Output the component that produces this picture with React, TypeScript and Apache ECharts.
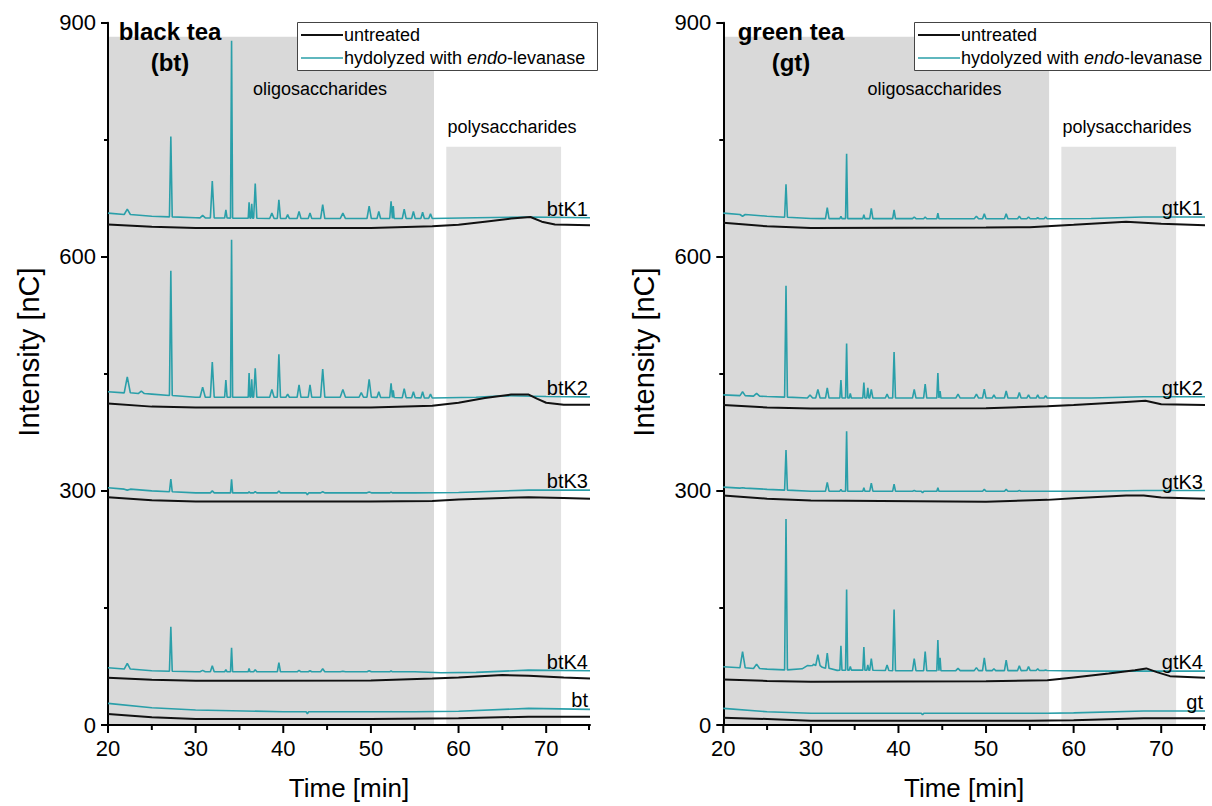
import React, { useEffect, useRef } from "react";
import * as echarts from "echarts";

const FONT = "'Liberation Sans', Arial, Helvetica, sans-serif";
const TEAL = "#2a9fa9";
const BLACK = "#111111";

const xMajorTicks = [20, 30, 40, 50, 60, 70];
const xMinorTicks = [25, 35, 45, 55, 65, 75];

// shaded regions [start, end, top]
const oligoRegion = [20, 57.2, 882];
const polyRegion = [58.6, 71.7, 741];

// ---------- black tea ----------
const btPeakTimes = [22.2, 23.8, 27.17, 30.8, 31.9, 33.45, 34.1, 36.1, 36.4, 36.8, 38.7, 39.5, 40.5, 41.8, 43.05, 44.5, 46.8, 48.9, 49.8, 50.9, 52.3, 52.55, 53.8, 54.85, 55.9, 56.8];
const btPeakWidths = [0.35, 0.35, 0.16, 0.3, 0.22, 0.14, 0.12, 0.1, 0.1, 0.18, 0.25, 0.18, 0.2, 0.22, 0.2, 0.24, 0.3, 0.25, 0.25, 0.2, 0.15, 0.1, 0.22, 0.2, 0.2, 0.2];

const btK1Tops = [661, null, 754, 653, 697, 660, 877, 670, 668, 694, 656, 673, 654, 658, 656, 667, 656, null, 665, 658, 671, 665, 661, 658, 657, 655];
const btK2Tops = [446, 428, 582, 433, 465, 442, 622, 451, 443, 457, 430, 475, 424, 436, 436, 456, 430, 426, 443, 427, 438, 429, 431, 427, 427, 424];
const btK3Tops = [301, null, 315, null, 300, null, 315, 299, null, 299, null, 300, null, null, null, 299, null, null, 298.5, null, 298.5, null, null, null, null, null];
const btK4Tops = [79, null, 126, 70, 76, 71, 99, 72.5, null, 71, null, 80, null, 70, 69.5, 72, 69, null, 69.5, null, 69.5, null, null, null, null, null];

const btK1Hyd = [[20, 656], [25, 652], [30, 650], [40, 649], [57, 649], [62, 650], [68, 651], [75, 650]];
const btK2Hyd = [[20, 427], [25, 424], [30, 420], [50, 420], [57, 419], [62, 420], [65, 422], [70, 421], [75, 420.5]];
const btK3Hyd = [[20, 304], [25, 300], [30, 297.5], [42.6, 297.5], [42.75, 295], [42.9, 297.5], [55, 297.5], [60, 298], [68, 301], [75, 301]];
const btK4Hyd = [[20, 73.4], [25, 69.5], [30, 68.2], [55, 68.2], [58, 67], [62, 67.5], [68, 70.3], [75, 69.5]];
const btHyd = [[20, 27.7], [25, 22.2], [30, 19.2], [40, 17], [42.6, 17], [42.75, 14.5], [42.9, 17], [55, 17], [60, 17.7], [68, 21.3], [75, 20]];

const btK1Unt = [[20, 641.5], [25, 638.5], [30, 637], [50, 637], [57, 639], [60, 641], [63, 645], [66, 649], [68.2, 651], [69.5, 645], [71, 641.5], [75, 640.5]];
const btK2Unt = [[20, 412], [25, 408], [30, 407], [50, 407], [57, 409], [60, 413], [63, 419], [66, 423.5], [68, 423.5], [69, 418], [70, 413], [72, 410.5], [75, 410.4]];
const btK3Unt = [[20, 292], [25, 288], [30, 286.4], [50, 286.4], [57, 287], [60, 289], [65, 291], [68, 292], [72, 291], [75, 290]];
const btK4Unt = [[20, 60.6], [25, 58], [30, 56.7], [50, 57], [57, 59.7], [60, 61], [65, 64], [68, 63], [72, 61], [75, 59.7]];
const btUnt = [[20, 14], [25, 10], [30, 7.7], [50, 7.7], [60, 8.5], [68, 10.7], [75, 10.7]];

const btNames = ["btK1", "btK2", "btK3", "btK4", "bt"];

// ---------- green tea ----------
const gtPeakTimes = [22.2, 23.8, 27.16, 29.9, 30.8, 31.87, 33.43, 34.08, 34.5, 36.05, 36.5, 36.9, 38.7, 39.5, 41.8, 43.05, 44.5, 44.75, 46.8, 48.9, 49.8, 50.9, 52.3, 53.8, 54.85, 55.9, 56.8];
const gtPeakWidths = [0.3, 0.35, 0.16, 0.3, 0.25, 0.2, 0.12, 0.12, 0.12, 0.12, 0.12, 0.18, 0.2, 0.16, 0.2, 0.18, 0.12, 0.1, 0.25, 0.25, 0.2, 0.2, 0.2, 0.2, 0.2, 0.18, 0.18];

const gtK1Tops = [652, null, 693, null, null, 663, 652, 732, null, 654, null, 662, null, 660, 651, 651, 656, null, null, 652, 655, null, 655, 652, 651, 650, 651];
const gtK2Tops = [427, 425, 563, 423, 430, 432, 442, 489, 425, 439, 432, 430, 424, 478, 430, 437, 451, 428, 424, 424, 430.5, 423, 428, 426, 423, 423, 422];
const gtK3Tops = [304, null, 352.5, null, null, 311, 302, 376.4, null, 304, null, 310, null, 308.6, 300.5, null, 304, null, null, null, 302, null, 302, 300.5, null, null, null];
const gtK4Tops = [94, 78, 264, 76, 90, 92, 101.5, 173.5, 75, 100, 77, 85, 77, 148, 85, 94, 109, 86, 72.5, 73.5, 86, 72, 83, 76, 75, 72, 70.5];

const gtK1Hyd = [[20, 656], [25, 652], [30, 649], [57, 648.7], [62, 649], [68, 651], [75, 651]];
const gtK2Hyd = [[20, 423], [25, 421], [30, 419], [57, 419], [62, 419], [68, 420.6], [75, 420.6]];
const gtK3Hyd = [[20, 304.8], [25, 302], [30, 299.6], [42.6, 299.6], [42.75, 297.5], [42.9, 299.6], [57, 299.6], [62, 299.6], [68, 300.5], [75, 300.5]];
const gtK4Hyd = [[20, 74.6], [25, 71.6], [27, 70.5], [29, 72], [30.3, 78], [31.3, 74], [33, 70], [35, 70.5], [40, 69.5], [57, 69.8], [62, 69], [75, 69]];
const gtHyd = [[20, 21.3], [25, 17], [30, 15], [42.6, 15], [42.75, 13], [42.9, 15], [57, 15], [60, 15.5], [68, 18], [75, 18]];

const gtK1Unt = [[20, 643.6], [25, 639], [30, 637], [50, 637.5], [55, 638], [60, 641], [66, 645], [70, 642.5], [75, 640.5]];
const gtK2Unt = [[20, 410], [25, 407], [30, 405.7], [50, 406], [57, 408.5], [60, 410], [66, 414], [68.2, 415.5], [70, 411], [75, 410]];
const gtK3Unt = [[20, 294], [25, 290], [30, 287.6], [50, 286], [57, 288.5], [60, 290.7], [66, 294], [68, 294], [70, 291.5], [75, 290]];
const gtK4Unt = [[20, 58.4], [25, 56.5], [30, 55.4], [50, 56], [57, 57.3], [60, 61], [64, 66], [67, 70.3], [68.3, 72.5], [69.5, 67.8], [71, 62.6], [75, 60.7]];
const gtUnt = [[20, 9.4], [25, 7.7], [30, 5.6], [55, 5.6], [60, 6], [68, 8.5], [75, 8.5]];

const gtNames = ["gtK1", "gtK2", "gtK3", "gtK4", "gt"];

function baseAt(base: number[][], t: number): number {
  for (let i = 0; i < base.length - 1; i++) {
    const [t0, v0] = base[i];
    const [t1, v1] = base[i + 1];
    if (t >= t0 && t <= t1) return v0 + ((v1 - v0) * (t - t0)) / (t1 - t0);
  }
  return base[base.length - 1][1];
}

function buildTrace(base: number[][], times?: number[], widths?: number[], tops?: (number | null)[]) {
  const pts: number[][] = [];
  const windows: number[][] = [];
  if (times && widths && tops) {
    tops.forEach((top, i) => {
      if (top == null) return;
      const t = times[i];
      const w = widths[i];
      const b = baseAt(base, t);
      pts.push([t - w, b], [t, top], [t + w, b]);
      windows.push([t - w, t + w]);
    });
  }
  base.forEach((p) => {
    if (!windows.some(([a, b]) => p[0] > a && p[0] < b)) pts.push(p);
  });
  pts.sort((a, b) => a[0] - b[0]);
  return pts;
}

export default function App() {
  const ref = useRef<HTMLDivElement>(null);
  useEffect(() => {
    if (!ref.current) return;
    const chart = echarts.init(ref.current, null, { renderer: "svg" });

    const panels = [
      {
        grid: { left: 108, right: 622, top: 22.7, bottom: 79.3 },
        times: btPeakTimes,
        widths: btPeakWidths,
        hyd: [btK1Hyd, btK2Hyd, btK3Hyd, btK4Hyd, btHyd],
        tops: [btK1Tops, btK2Tops, btK3Tops, btK4Tops, undefined],
        unt: [btK1Unt, btK2Unt, btK3Unt, btK4Unt, btUnt],
        names: btNames,
      },
      {
        grid: { left: 723.3, right: 7, top: 22.7, bottom: 79.3 },
        times: gtPeakTimes,
        widths: gtPeakWidths,
        hyd: [gtK1Hyd, gtK2Hyd, gtK3Hyd, gtK4Hyd, gtHyd],
        tops: [gtK1Tops, gtK2Tops, gtK3Tops, gtK4Tops, undefined],
        unt: [gtK1Unt, gtK2Unt, gtK3Unt, gtK4Unt, gtUnt],
        names: gtNames,
      },
    ];

    const grids: any[] = [];
    const xAxes: any[] = [];
    const yAxes: any[] = [];
    const series: any[] = [];
    const axisLineStyle = { color: "#000", width: 2 };

    panels.forEach((p, gi) => {
      grids.push({ ...p.grid, containLabel: false });
      xAxes.push({
        type: "value",
        gridIndex: gi,
        position: "bottom",
        min: 20,
        max: 75,
        interval: 10,
        name: "Time [min]",
        nameLocation: "middle",
        nameGap: 50,
        nameTextStyle: { fontSize: 26, color: "#000", fontFamily: FONT },
        axisLine: { show: true, onZero: false, lineStyle: axisLineStyle },
        axisTick: { show: false },
        axisLabel: { show: true, fontSize: 22, color: "#000", fontFamily: FONT, margin: 12, customValues: xMajorTicks },
        splitLine: { show: false },
      });
      yAxes.push({
        type: "value",
        gridIndex: gi,
        min: 0,
        max: 900,
        interval: 300,
        axisLine: { show: true, onZero: false, lineStyle: axisLineStyle },
        axisTick: { show: true, inside: false, length: 7, lineStyle: axisLineStyle },
        minorTick: { show: true, splitNumber: 2, length: 4, lineStyle: { color: "#000", width: 2 } },
        axisLabel: { show: true, fontSize: 22, color: "#000", fontFamily: FONT, margin: 12 },
        splitLine: { show: false },
      });
      p.hyd.forEach((base, k) => {
        const s: any = {
          type: "line",
          name: "hyd-" + p.names[k],
          xAxisIndex: gi,
          yAxisIndex: gi,
          data: buildTrace(base, p.times, p.widths, p.tops[k] as any),
          symbol: "none",
          showSymbol: false,
          lineStyle: { color: TEAL, width: 1.6 },
          itemStyle: { color: TEAL },
          z: 3,
          silent: true,
        };
        if (k === 0) {
          s.markArea = {
            silent: true,
            z: 0,
            data: [
              [
                { xAxis: oligoRegion[0], yAxis: 0, itemStyle: { color: "#d9d9d9" } },
                { xAxis: oligoRegion[1], yAxis: oligoRegion[2] },
              ],
              [
                { xAxis: polyRegion[0], yAxis: 0, itemStyle: { color: "#e2e2e2" } },
                { xAxis: polyRegion[1], yAxis: polyRegion[2] },
              ],
            ],
          };
        }
        series.push(s);
      });
      p.unt.forEach((base, k) => {
        series.push({
          type: "line",
          name: "unt-" + p.names[k],
          xAxisIndex: gi,
          yAxisIndex: gi,
          data: buildTrace(base),
          symbol: "none",
          showSymbol: false,
          lineStyle: { color: BLACK, width: 2 },
          itemStyle: { color: BLACK },
          z: 4,
          silent: true,
        });
      });
    });

    chart.setOption({
      animation: false,
      backgroundColor: "#fff",
      textStyle: { fontFamily: FONT },
      grid: grids,
      xAxis: xAxes,
      yAxis: yAxes,
      series,
    });

    // graphics: titles, legends, region labels, trace labels, x ticks, y name
    const g: any[] = [];
    const txt = (x: number, y: number, text: string, size: number, extra: any = {}) => ({
      type: "text",
      x,
      y,
      z: 20,
      style: { text, fontSize: size, fontFamily: FONT, fill: "#000", align: "center", verticalAlign: "middle", ...extra },
    });

    const panelDeco = [
      { t1: "black tea", t2: "(bt)", tx: 170, lx: 297, lw: 300, ox: 320, px: 512, nx: 29 },
      { t1: "green tea", t2: "(gt)", tx: 791, lx: 914, lw: 296, ox: 934.5, px: 1127, nx: 644 },
    ];
    panelDeco.forEach((d) => {
      g.push(txt(d.tx, 31, d.t1, 24, { fontWeight: "bold" }));
      g.push(txt(d.tx, 62, d.t2, 24, { fontWeight: "bold" }));
      g.push(txt(d.ox, 89, "oligosaccharides", 18));
      g.push(txt(d.px, 127, "polysaccharides", 18));
      g.push({ ...txt(d.nx, 352, "Intensity [nC]", 29), rotation: Math.PI / 2 });
      g.push({
        type: "rect",
        z: 19,
        shape: { x: d.lx + 0.5, y: 22.5, width: d.lw, height: 48 },
        style: { fill: "#fff", stroke: "#444", lineWidth: 1 },
      });
      g.push({ type: "line", z: 20, shape: { x1: d.lx + 4, y1: 35, x2: d.lx + 46, y2: 35 }, style: { stroke: BLACK, lineWidth: 2 } });
      g.push({ type: "line", z: 20, shape: { x1: d.lx + 4, y1: 58, x2: d.lx + 46, y2: 58 }, style: { stroke: TEAL, lineWidth: 1.6 } });
      g.push(txt(d.lx + 47, 35, "untreated", 18, { align: "left" }));
      g.push({
        type: "text",
        x: d.lx + 47,
        y: 58,
        z: 20,
        style: {
          text: "{n|hydolyzed with }{i|endo}{n|-levanase}",
          align: "left",
          verticalAlign: "middle",
          rich: {
            n: { fontSize: 18, fontFamily: FONT, fill: "#000", color: "#000" },
            i: { fontSize: 18, fontFamily: FONT, fontStyle: "italic", fill: "#000", color: "#000" },
          },
        },
      });
    });

    panels.forEach((p, gi) => {
      const finder = { xAxisIndex: gi, yAxisIndex: gi } as any;
      p.hyd.forEach((base, k) => {
        const last = base[base.length - 1];
        const pix = chart.convertToPixel(finder, [last[0], last[1]]) as number[];
        g.push(txt(pix[0] - 2, pix[1] + 1, p.names[k], 20, { align: "right", verticalAlign: "bottom" }));
      });
      const tickSets: [number[], number][] = [
        [xMajorTicks, 7],
        [xMinorTicks, 4],
      ];
      tickSets.forEach(([vals, len]) => {
        vals.forEach((v) => {
          const pix = chart.convertToPixel(finder, [v, 0]) as number[];
          const x = Math.min(pix[0], v === 75 ? pix[0] - 1 : pix[0]);
          g.push({
            type: "line",
            z: 20,
            shape: { x1: x, y1: pix[1], x2: x, y2: pix[1] + 1 + len },
            style: { stroke: "#000", lineWidth: 2 },
          });
        });
      });
    });

    chart.setOption({ graphic: g });

    return () => chart.dispose();
  }, []);

  return <div ref={ref} style={{ position: "fixed", left: 0, top: 0, width: 1212, height: 806 }} />;
}
